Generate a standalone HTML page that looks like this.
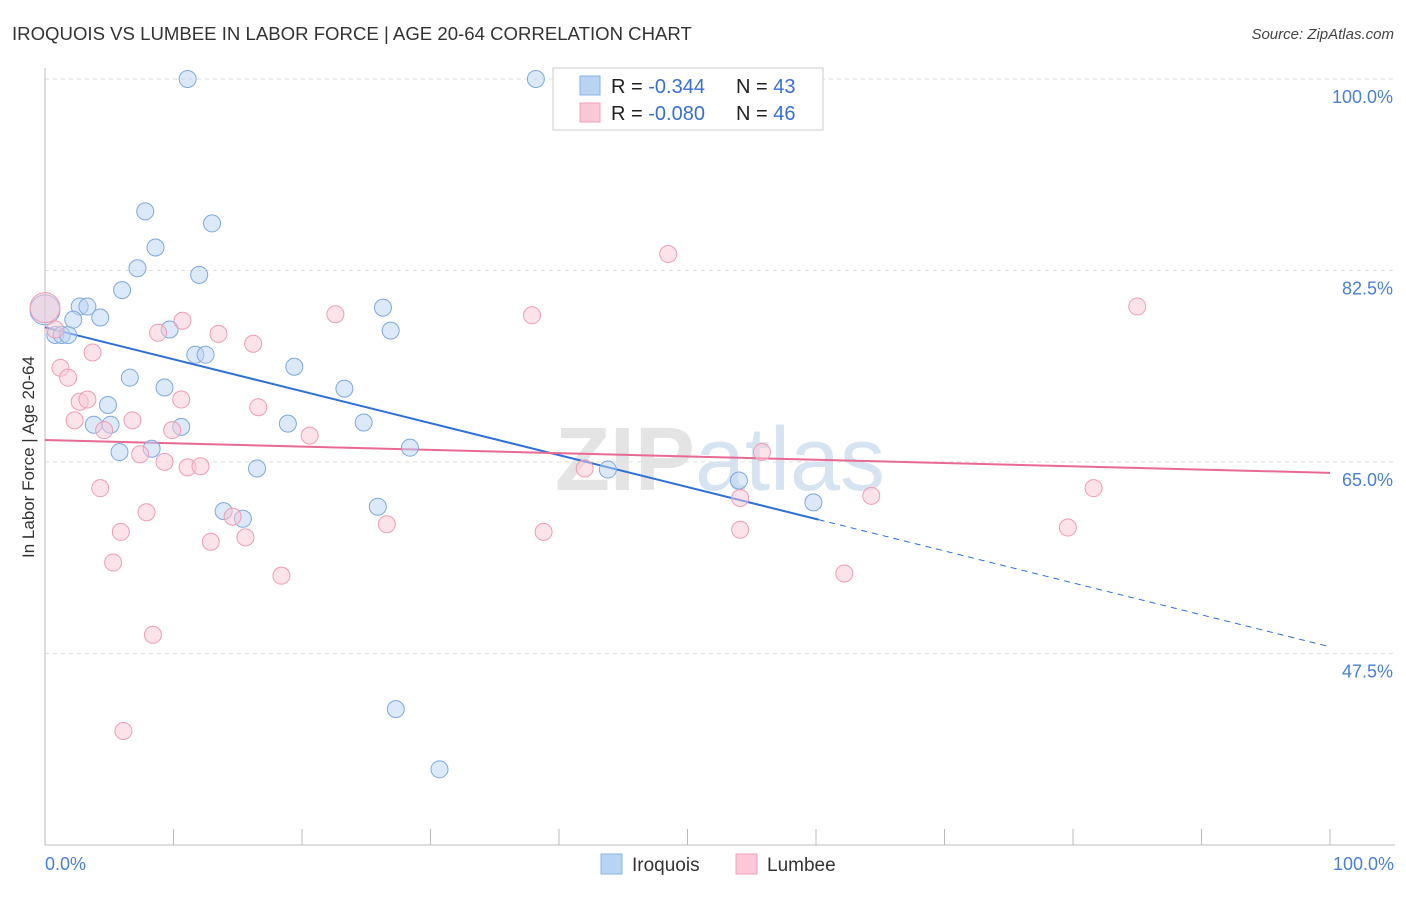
<!DOCTYPE html>
<html><head><meta charset="utf-8"><style>
body{margin:0;background:#fff;font-family:"Liberation Sans",sans-serif}
svg text{font-family:"Liberation Sans",sans-serif}
</style></head><body>
<svg id="chart" width="1406" height="892" xmlns="http://www.w3.org/2000/svg">
<text x="12" y="40" font-size="18.6" fill="#333">IROQUOIS VS LUMBEE IN LABOR FORCE | AGE 20-64 CORRELATION CHART</text>
<text x="1394" y="39" font-size="15" fill="#444" text-anchor="end" font-style="italic">Source: ZipAtlas.com</text>
<text x="34" y="457" font-size="17" fill="#333" text-anchor="middle" transform="rotate(-90 34 457)">In Labor Force | Age 20-64</text>
<text x="720" y="490" font-size="90" fill="#e4e4e4" text-anchor="middle" font-weight="bold">ZIP<tspan fill="#d6e4f2" font-weight="normal">atlas</tspan></text>
<g id="grid"></g><g id="axes"></g><g id="lines"></g><g id="pts"></g>
<g>
<rect x="553" y="68" width="270" height="62" fill="#fff" stroke="#ccc"/>
<rect x="580" y="76" width="20" height="19" fill="#b9d4f3" stroke="#8ab2e6"/>
<rect x="580" y="103" width="20" height="19" fill="#fac8d6" stroke="#f0a0b8"/>
<text x="611" y="93" font-size="20" fill="#222">R = <tspan fill="#3a6fd0">-0.344</tspan></text>
<text x="736" y="93" font-size="20" fill="#222">N = <tspan fill="#3a6fd0">43</tspan></text>
<text x="611" y="120" font-size="20" fill="#222">R = <tspan fill="#3a6fd0">-0.080</tspan></text>
<text x="736" y="120" font-size="20" fill="#222">N = <tspan fill="#3a6fd0">46</tspan></text>
</g>
<g>
<rect x="601" y="854" width="21" height="20" fill="#b9d4f3" stroke="#8ab2e6"/>
<text x="632" y="871" font-size="19" fill="#333">Iroquois</text>
<rect x="736" y="854" width="21" height="20" fill="#fac8d6" stroke="#f0a0b8"/>
<text x="767" y="871" font-size="19" fill="#333">Lumbee</text>
</g>
<text x="45" y="870" font-size="18" fill="#4a7fd6">0.0%</text>
<text x="1394" y="870" font-size="18" fill="#4a7fd6" text-anchor="end">100.0%</text>
</svg>
<script>
const yTicks=[100,82.5,65,47.5];
const yTickLabels=["100.0%","82.5%","65.0%","47.5%"];
const xTicks=[0,10,20,30,40,50,60,70,80,90,100];
const iroquoisX=[0,0.8,1.3,1.8,2.7,3.3,2.2,4.3,7.8,13.0,8.6,7.2,12.0,6.0,9.7,11.7,12.5,6.6,9.3,4.9,3.8,5.1,10.6,5.8,8.3,19.4,18.9,23.3,24.8,26.3,26.9,28.4,16.5,13.9,15.4,25.9,27.3,30.7,43.8,54.0,59.8,11.1,38.2];
const iroquoisY=[78.9,76.6,76.6,76.6,79.2,79.2,78.0,78.2,87.9,86.8,84.6,82.7,82.1,80.7,77.1,74.8,74.8,72.7,71.8,70.2,68.4,68.4,68.2,65.9,66.2,73.7,68.5,71.7,68.6,79.1,77.0,66.3,64.4,60.5,59.8,60.9,42.4,36.9,64.3,63.3,61.3,100,100];
const lumbeeX=[0,0.8,1.2,1.8,3.7,8.8,10.7,13.5,16.2,22.6,37.9,48.5,85.0,2.7,3.3,2.3,6.8,10.6,16.6,9.9,4.6,20.6,7.4,9.3,11.1,12.1,4.3,7.9,5.9,14.6,15.6,12.9,5.3,18.4,26.6,38.8,42.0,55.8,54.1,54.1,64.3,81.6,79.6,62.2,8.4,6.1];
const lumbeeY=[79.1,77.1,73.6,72.7,75.0,76.8,77.9,76.7,75.8,78.5,78.4,84.0,79.2,70.5,70.7,68.8,68.8,70.7,70.0,67.9,67.9,67.4,65.7,65.0,64.5,64.6,62.6,60.4,58.6,60.0,58.1,57.7,55.8,54.6,59.3,58.6,64.4,65.9,61.7,58.8,61.9,62.6,59.0,54.8,49.2,40.4];
const iroquoisTrend=[77.3,48.1];
const iroquoisSolidEnd=60.2;
const lumbeeTrend=[67.0,64.0];
const NS="http://www.w3.org/2000/svg";
const sx=v=>45+v*12.85, sy=v=>79+(100-v)*10.94;
function mk(tag,attrs,parent){const e=document.createElementNS(NS,tag);for(const k in attrs)e.setAttribute(k,attrs[k]);document.getElementById(parent).appendChild(e);return e;}
yTicks.forEach((t,i)=>{
 const l=mk('line',{x1:45,x2:1395,y1:sy(t),y2:sy(t),stroke:'#ddd','stroke-dasharray':'4 4'},'grid');
 
 
 const tx=mk('text',{x:1393,y:sy(t)+24,'font-size':18,fill:'#4a7fd6','text-anchor':'end'},'grid');
 tx.textContent=yTickLabels[i];
 
 
});
const ax=mk('line',{x1:45,x2:1395,y1:845,y2:845,stroke:'#bbb'},'axes');


const ay=mk('line',{x1:45,x2:45,y1:68,y2:845,stroke:'#bbb'},'axes');


xTicks.forEach(t=>{const l=mk('line',{x1:sx(t),x2:sx(t),y1:829,y2:845,stroke:'#bbb'},'axes');
 
 });
function pts(X,Y,fill,stroke,name){X.forEach((x,i)=>{const c=mk('circle',{cx:sx(x),cy:sy(Y[i]),r:(i==0?15:8.5),fill:fill,'fill-opacity':0.5,stroke:stroke,'stroke-width':1},'pts');
 
 });}
pts(iroquoisX,iroquoisY,'#b9d4f3','#7fa8de','iroquois-point');
pts(lumbeeX,lumbeeY,'#fac8d6','#ee9db5','lumbee-point');
const iy=x=>iroquoisTrend[0]+(iroquoisTrend[1]-iroquoisTrend[0])*x/100;
const b1=mk('line',{x1:sx(0),y1:sy(iy(0)),x2:sx(iroquoisSolidEnd),y2:sy(iy(iroquoisSolidEnd)),stroke:'#2f6fd6','stroke-width':2},'lines');


const b2=mk('line',{x1:sx(iroquoisSolidEnd),y1:sy(iy(iroquoisSolidEnd)),x2:sx(100),y2:sy(iy(100)),stroke:'#2f6fd6','stroke-width':1,'stroke-dasharray':'6 5'},'lines');


const p1=mk('line',{x1:sx(0),y1:sy(lumbeeTrend[0]),x2:sx(100),y2:sy(lumbeeTrend[1]),stroke:'#e86a93','stroke-width':2},'lines');


</script>
</body></html>
